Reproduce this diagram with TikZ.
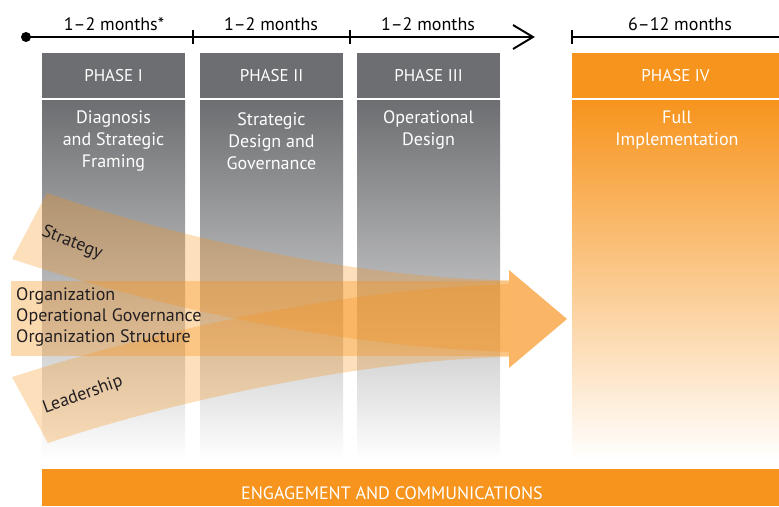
\documentclass[tikz,border=0pt]{standalone}
\usepackage{fontspec}
\setmainfont{PT Sans}
\definecolor{phasegray}{HTML}{6D6E71}
\definecolor{brandorange}{HTML}{F7941D}
\definecolor{inkblack}{HTML}{231F20}
\begin{document}
\begin{tikzpicture}[x=1pt,y=-1pt,
  txt/.style={font=\fontsize{18}{22}\selectfont, align=center, inner sep=0pt},
  headbox/.style={fill=phasegray, minimum width=143pt, minimum height=44.5pt,
    inner sep=0pt, text=white, font=\fontsize{17}{22}\selectfont},
  bodytxt/.style={txt, text=white},
  monthtxt/.style={txt, text=black},
  flowtxt/.style={font=\fontsize{18}{21}\selectfont, inner sep=0pt, text=inkblack},
  band/.style={fill=brandorange, fill opacity=0.3},
  timeline/.style={line width=1.9pt, black},
]
\useasboundingbox (0,0) rectangle (779,506);

% ---- timeline ----
\coordinate (t0) at (26,37);
\coordinate (tend) at (533,37);
\coordinate (t4) at (572,37);
\coordinate (t4end) at (779,37);
\fill (t0) circle (5);
\draw[timeline] (t0) -- (tend);
\draw[timeline, line join=miter] (513,25) -- (tend) -- (513,49);
\draw[timeline] (193,30) -- (193,44);
\draw[timeline] (350,30) -- (350,44);
\draw[timeline] (t4) -- (t4end);
\draw[timeline] (572,30) -- (572,44);

\node[monthtxt] (m1) at (114,24) {1–2 months*};
\node[monthtxt] (m2) at (271,24) {1–2 months};
\node[monthtxt] (m3) at (428,24) {1–2 months};
\node[monthtxt] (m4) at (680,24) {6–12 months};

% ---- phase columns ----
\shade[top color=phasegray, bottom color=white] (42,100) rectangle (185,460);
\shade[top color=phasegray, bottom color=white] (200,100) rectangle (343,460);
\shade[top color=phasegray, bottom color=white] (357,100) rectangle (500,460);
\shade[top color=brandorange, bottom color=white] (572,100) rectangle (779,460);

\node[headbox] (p1) at (113.5,75.25) {PHASE I};
\node[headbox] (p2) at (271.5,75.25) {PHASE II};
\node[headbox] (p3) at (428.5,75.25) {PHASE III};
\node[headbox, fill=brandorange, minimum width=207pt] (p4) at (675.5,75.25) {PHASE IV};

\node[bodytxt] (d1) at (113.5,141) {Diagnosis\\and Strategic\\Framing};
\node[bodytxt] (d2) at (271.5,141) {Strategic\\Design and\\Governance};
\node[bodytxt] (d3) at (428.5,130) {Operational\\Design};
\node[bodytxt] (d4) at (677,130) {Full\\Implementation};

% ---- converging streams ----
% organization shaft
\fill[brandorange, fill opacity=0.35] (11,281) rectangle (509,356);
% strategy stream
\fill[band] (47,193) .. controls (170,236) and (360,279) .. (509,280)
  -- (509,352) .. controls (330,346) and (150,305) .. (12,259) -- cycle;
% leadership stream
\fill[band] (12,377) .. controls (150,333) and (330,290) .. (509,284)
  -- (509,357) .. controls (360,360) and (170,402) .. (48,443) -- cycle;
% arrow head
\fill[brandorange, fill opacity=0.68] (509,270) -- (567,319) -- (509,368) -- cycle;

\node[flowtxt, rotate=-22] (strat) at (72,243) {Strategy};
\node[flowtxt, rotate=20] (lead) at (83,395) {Leadership};
\node[flowtxt, anchor=west] (org1) at (16,296) {Organization};
\node[flowtxt, anchor=west] (org2) at (16,317) {Operational Governance};
\node[flowtxt, anchor=west] (org3) at (16,338) {Organization Structure};

% ---- engagement bar ----
\fill[brandorange] (42,469) rectangle (779,506);
\node[txt, text=white] (engage) at (392,493) {ENGAGEMENT AND COMMUNICATIONS};
\end{tikzpicture}
\end{document}
